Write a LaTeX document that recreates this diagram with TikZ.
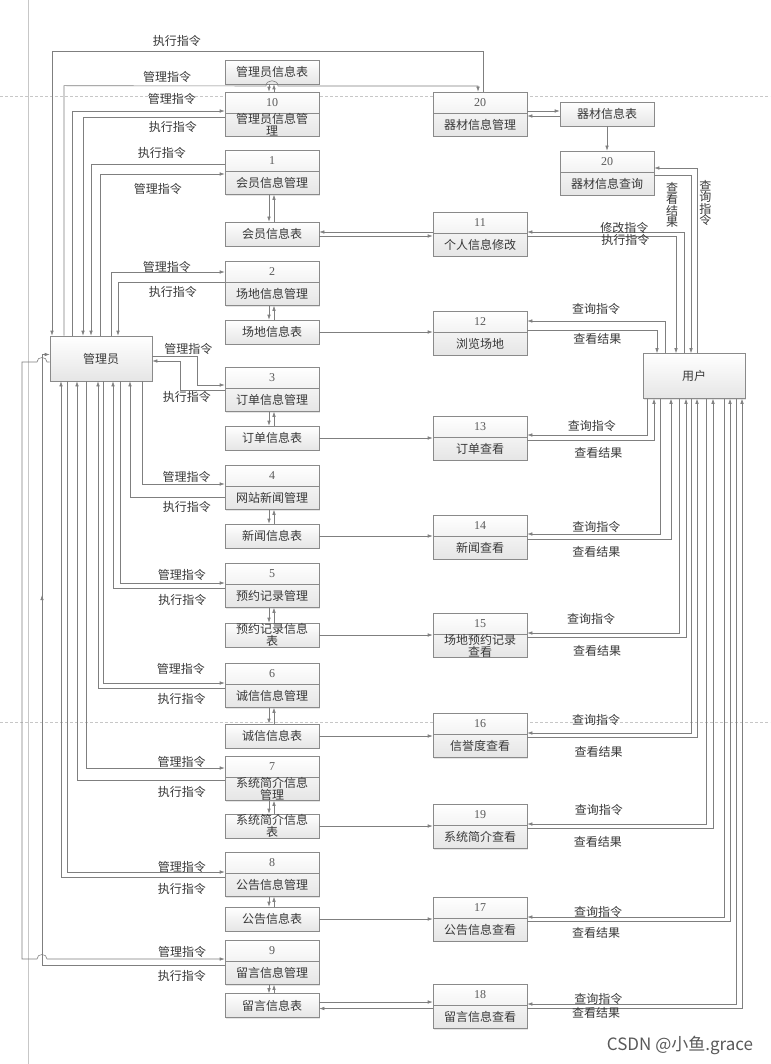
\documentclass[tikz,border=0pt]{standalone}
\usepackage{fontspec}
\setmainfont{Noto Sans CJK SC}
\newfontfamily\numfont{Liberation Serif}
\usetikzlibrary{arrows, arrows.meta, shadows, decorations.markings}

\definecolor{linegray}{HTML}{7F7F7F}
\definecolor{boxline}{HTML}{8A8A8A}
\definecolor{txtgray}{HTML}{383838}
\definecolor{numgray}{HTML}{5A5A5A}

% number cell on top, name cell below
\newcommand{\twocell}[2]{%
  \vbox{\offinterlineskip\hsize=94pt
    \vbox to 21pt{\vss\hbox to 94pt{\hss{\numfont\color{numgray}#1}\hss}\vss}%
    \vbox to 23pt{\vss\baselineskip=12pt\lineskiplimit=-100pt
      \centering\noindent #2\par\vss}}}

\tikzset{
    procbox/.style = {
        rectangle, draw=boxline, line width=0.6pt,
        top color=white, bottom color=black!10,
        drop shadow={opacity=0.2, shadow xshift=1.2pt, shadow yshift=-1.2pt},
        inner sep=0pt, minimum width=94pt, minimum height=44pt,
        text=txtgray, font=\fontsize{12}{12}\selectfont,
        path picture={\draw[boxline, line width=0.6pt]
            ([yshift=-21pt]path picture bounding box.north west) --
            ([yshift=-21pt]path picture bounding box.north east);}
    },
    tablebox/.style = {
        rectangle, draw=boxline, line width=0.6pt,
        top color=white, bottom color=black!10,
        drop shadow={opacity=0.2, shadow xshift=1.2pt, shadow yshift=-1.2pt},
        inner sep=0pt, minimum width=94pt, minimum height=24pt,
        align=center, text=txtgray, font=\fontsize{12}{12}\selectfont
    },
    actor/.style = {
        rectangle, draw=boxline, line width=0.6pt,
        top color=white, bottom color=black!10,
        drop shadow={opacity=0.2, shadow xshift=1.2pt, shadow yshift=-1.2pt},
        minimum width=102pt, minimum height=45pt,
        text=txtgray, font=\fontsize{12}{12}\selectfont
    },
    arrow/.style = {
        -{Latex[length=5pt,width=3.5pt]}, color=linegray, line width=0.6pt
    },
    lbl/.style = {
        text=txtgray, font=\fontsize{12}{12}\selectfont, inner sep=1.5pt
    },
    vlbl/.style = {
        lbl, align=center, font=\fontsize{12}{11.5}\selectfont
    }
}

\begin{document}
\begin{tikzpicture}[x=1pt, y=-1pt]

\fill[white] (0,0) rectangle (770,1064);
\useasboundingbox (0,0) rectangle (770,1064);

% page edges of the screenshot
\draw [black!22, dash pattern=on 3pt off 2pt] (0,96) -- (770,96);
\draw [black!22, dash pattern=on 3pt off 2pt] (0,722) -- (770,722);
\draw [black!22] (28,0) -- (28,1064);

% actors
\node (admin) [actor] at (101,358.5) {管理员};
\node (user) [actor] at (694,376) {用户};

% management column
\node (tadmin) [tablebox] at (272,72) {管理员信息表};
\node (m10) [procbox] at (272,114) {\twocell{10}{管理员信息管\\理}};
\node (m1) [procbox] at (272,172.5) {\twocell{1}{会员信息管理}};
\node (t1) [tablebox] at (272,234) {会员信息表};
\node (m2) [procbox] at (272,283.5) {\twocell{2}{场地信息管理}};
\node (t2) [tablebox] at (272,332) {场地信息表};
\node (m3) [procbox] at (272,389.5) {\twocell{3}{订单信息管理}};
\node (t3) [tablebox] at (272,438) {订单信息表};
\node (m4) [procbox] at (272,487.5) {\twocell{4}{网站新闻管理}};
\node (t4) [tablebox] at (272,536) {新闻信息表};
\node (m5) [procbox] at (272,585.5) {\twocell{5}{预约记录管理}};
\node (t5) [tablebox] at (272,635) {预约记录信息\\表};
\node (m6) [procbox] at (272,685.5) {\twocell{6}{诚信信息管理}};
\node (t6) [tablebox] at (272,736) {诚信信息表};
\node (m7) [procbox] at (272,778.5) {\twocell{7}{系统简介信息\\管理}};
\node (t7) [tablebox] at (272,826) {系统简介信息\\表};
\node (m8) [procbox] at (272,874.5) {\twocell{8}{公告信息管理}};
\node (t8) [tablebox] at (272,919) {公告信息表};
\node (m9) [procbox] at (272,962.5) {\twocell{9}{留言信息管理}};
\node (t9) [tablebox] at (272,1005.5) {留言信息表};

% query column
\node (e20) [procbox] at (480,114) {\twocell{20}{器材信息管理}};
\node (q11) [procbox] at (480,234) {\twocell{11}{个人信息修改}};
\node (q12) [procbox] at (480,333) {\twocell{12}{浏览场地}};
\node (q13) [procbox] at (480,438) {\twocell{13}{订单查看}};
\node (q14) [procbox] at (480,537) {\twocell{14}{新闻查看}};
\node (q15) [procbox] at (480,635) {\twocell{15}{场地预约记录\\查看}};
\node (q16) [procbox] at (480,735.5) {\twocell{16}{信誉度查看}};
\node (q19) [procbox] at (480,826.5) {\twocell{19}{系统简介查看}};
\node (q17) [procbox] at (480,919) {\twocell{17}{公告信息查看}};
\node (q18) [procbox] at (480,1006.5) {\twocell{18}{留言信息查看}};

\node (tequip) [tablebox] at (607,114) {器材信息表};
\node (qeq) [procbox] at (607,173) {\twocell{20}{器材信息查询}};

% admin <-> top boxes
\draw [arrow] ([xshift=3pt]e20.north) -- ++(0,-40) -- node[lbl, above=3.5pt, pos=0.71] {执行指令} ++(-431,0) -- ([xshift=-49pt]admin.north);
\draw [arrow] ([xshift=-37pt]admin.north) -- ++(0,-250) -- node[lbl, above=1.5pt, pos=0.51] {管理指令} (266,86) .. controls (266,79) and (278,79) .. (278,86) -| ([xshift=-2pt]e20.north);
\draw [arrow] ([xshift=-29pt]admin.north) |- node[lbl, above=4.5pt, pos=0.827] {管理指令} ([yshift=3pt]m10.west);
\draw [arrow] ([yshift=-3pt]m10.west) -| node[lbl, below=2.5pt, pos=0.183] {执行指令} ([xshift=-18pt]admin.north);
\draw [arrow] ([yshift=8.5pt]m1.west) -| node[lbl, above=3.5pt, pos=0.235] {执行指令} ([xshift=-10pt]admin.north);
\draw [arrow] ([xshift=-1pt]admin.north) |- node[lbl, below=7.5pt, pos=0.732] {管理指令} ([yshift=-1.5pt]m1.west);
\draw [arrow] ([xshift=10pt]admin.north) |- node[lbl, above=-2.5pt, pos=0.746] {管理指令} ([yshift=11.5pt]m2.west);
\draw [arrow] ([yshift=1.5pt]m2.west) -| node[lbl, below=2.5pt, pos=0.243] {执行指令} ([xshift=17pt]admin.north);

% admin <-> 3
\draw [arrow] ([yshift=2.5pt]admin.east) -- node[lbl, above=0pt, pos=0.8] {管理指令} ++(45,0) |- ([yshift=4.5pt]m3.west);
\draw [arrow] ([yshift=-0.5pt]m3.west) -- node[lbl, below=0pt, pos=0.86] {执行指令} ++(-44,0) |- ([yshift=-2.5pt]admin.east);

% admin <-> lower boxes
\draw [arrow] ([xshift=41pt]admin.south) |- node[lbl, above=0pt, pos=0.77] {管理指令} ([yshift=3.5pt]m4.west);
\draw [arrow] ([yshift=-9.5pt]m4.west) -| node[lbl, below=2.5pt, pos=0.2] {执行指令} ([xshift=29pt]admin.south);
\draw [arrow] ([xshift=19pt]admin.south) |- node[lbl, above=0.5pt, pos=0.795] {管理指令} ([yshift=2.5pt]m5.west);
\draw [arrow] ([yshift=-2.5pt]m5.west) -| node[lbl, below=4.5pt, pos=0.19] {执行指令} ([xshift=12pt]admin.south);
\draw [arrow] ([xshift=2pt]admin.south) |- node[lbl, above=6.5pt, pos=0.82] {管理指令} ([yshift=2.5pt]m6.west);
\draw [arrow] ([yshift=-2.5pt]m6.west) -| node[lbl, below=3.5pt, pos=0.17] {执行指令} ([xshift=-3pt]admin.south);
\draw [arrow] ([xshift=-15pt]admin.south) |- node[lbl, above=-1.5pt, pos=0.845] {管理指令} ([yshift=10.5pt]m7.west);
\draw [arrow] ([yshift=-1.5pt]m7.west) -| node[lbl, below=4.5pt, pos=0.145] {执行指令} ([xshift=-24pt]admin.south);
\draw [arrow] ([xshift=-34pt]admin.south) |- node[lbl, above=-2.5pt, pos=0.864] {管理指令} ([yshift=2.5pt]m8.west);
\draw [arrow] ([yshift=-2.5pt]m8.west) -| node[lbl, below=4.5pt, pos=0.131] {执行指令} ([xshift=-40pt]admin.south);
\draw [arrow] ([yshift=-3.5pt]admin.west) -- (47,362) .. controls (47,356) and (37,356) .. (37,362) -- (22,362) -- (22,959) -- (37,959) .. controls (37,953) and (47,953) .. (47,959) -- node[lbl, above=0pt, pos=0.76] {管理指令} ([yshift=3.5pt]m9.west);
\draw [arrow, postaction={decorate}, decoration={markings, mark=at position 0.69 with {\arrow{Latex[length=5pt,width=3.5pt]}}}] ([yshift=-2.5pt]m9.west) -- node[lbl, below=3.5pt, pos=0.235] {执行指令} (42,965) -- (42,354.5) -- ([yshift=4pt]admin.west);

% management box <-> table
\draw [arrow] ([xshift=-3pt]tadmin.south) -- ([xshift=-3pt]m10.north);
\draw [arrow] ([xshift=2pt]m10.north) -- ([xshift=2pt]tadmin.south);
\draw [arrow] ([xshift=-3pt]m1.south) -- ([xshift=-3pt]t1.north);
\draw [arrow] ([xshift=2pt]t1.north) -- ([xshift=2pt]m1.south);
\draw [arrow] ([xshift=-3pt]m2.south) -- ([xshift=-3pt]t2.north);
\draw [arrow] ([xshift=2pt]t2.north) -- ([xshift=2pt]m2.south);
\draw [arrow] ([xshift=-3pt]m3.south) -- ([xshift=-3pt]t3.north);
\draw [arrow] ([xshift=2pt]t3.north) -- ([xshift=2pt]m3.south);
\draw [arrow] ([xshift=-3pt]m4.south) -- ([xshift=-3pt]t4.north);
\draw [arrow] ([xshift=2pt]t4.north) -- ([xshift=2pt]m4.south);
\draw [arrow] ([xshift=-3pt]m5.south) -- ([xshift=-3pt]t5.north);
\draw [arrow] ([xshift=2pt]t5.north) -- ([xshift=2pt]m5.south);
\draw [arrow] ([xshift=-3pt]m6.south) -- ([xshift=-3pt]t6.north);
\draw [arrow] ([xshift=2pt]t6.north) -- ([xshift=2pt]m6.south);
\draw [arrow] ([xshift=-3pt]m7.south) -- ([xshift=-3pt]t7.north);
\draw [arrow] ([xshift=2pt]t7.north) -- ([xshift=2pt]m7.south);
\draw [arrow] ([xshift=-3pt]m8.south) -- ([xshift=-3pt]t8.north);
\draw [arrow] ([xshift=2pt]t8.north) -- ([xshift=2pt]m8.south);
\draw [arrow] ([xshift=-3pt]m9.south) -- ([xshift=-3pt]t9.north);
\draw [arrow] ([xshift=2pt]t9.north) -- ([xshift=2pt]m9.south);

% table -> query
\draw [arrow] ([yshift=-2pt]t1.east) -- ([yshift=-2pt]q11.west);
\draw [arrow] ([yshift=2pt]q11.west) -- ([yshift=2pt]t1.east);
\draw [arrow] (t2.east) -- (t2.east -| q12.west);
\draw [arrow] (t3.east) -- (t3.east -| q13.west);
\draw [arrow] (t4.east) -- (t4.east -| q14.west);
\draw [arrow] (t5.east) -- (t5.east -| q15.west);
\draw [arrow] (t6.east) -- (t6.east -| q16.west);
\draw [arrow] (t7.east) -- (t7.east -| q19.west);
\draw [arrow] (t8.east) -- (t8.east -| q17.west);
\draw [arrow] ([yshift=3.5pt]t9.east) -- ([yshift=3.5pt]q18.west |- t9.east);
\draw [arrow] ([yshift=-3pt]q18.west |- t9.east) -- ([yshift=-3pt]t9.east);

% equipment
\draw [arrow] ([yshift=3pt]e20.east) -- ([yshift=3pt]tequip.west);
\draw [arrow] ([yshift=-2pt]tequip.west) -- ([yshift=-2pt]e20.east);
\draw [arrow] (tequip.south) -- (qeq.north);

% user <-> top queries
\draw [arrow] ([xshift=3pt]user.north) |- node[vlbl, right=0.5pt, pos=0.406] {查\\询\\指\\令} ([yshift=5pt]qeq.east);
\draw [arrow] ([yshift=-2pt]qeq.east) -| node[vlbl, left=11pt, pos=0.584] {查\\看\\结\\果} ([xshift=-3pt]user.north);
\draw [arrow] ([xshift=-10pt]user.north) |- node[lbl, above=-3.5pt, pos=0.69] {修改指令} ([yshift=2pt]q11.east);
\draw [arrow] ([yshift=-2pt]q11.east) -| node[lbl, below=-3.5pt, pos=0.33] {执行指令} ([xshift=-18pt]user.north);
\draw [arrow] ([xshift=-29pt]user.north) |- node[lbl, above=4.5pt, pos=0.75] {查询指令} ([yshift=12pt]q12.east);
\draw [arrow] ([yshift=3pt]q12.east) -| node[lbl, below=1.5pt, pos=0.27] {查看结果} ([xshift=-37pt]user.north);

% user <-> lower queries
\draw [arrow] ([xshift=-47pt]user.south) |- node[lbl, above=1.5pt, pos=0.73] {查询指令} ([yshift=3pt]q13.east);
\draw [arrow] ([yshift=-2pt]q13.east) -| node[lbl, below=5.5pt, pos=0.28] {查看结果} ([xshift=-40pt]user.south);
\draw [arrow] ([xshift=-34pt]user.south) |- node[lbl, above=0pt, pos=0.74] {查询指令} ([yshift=3pt]q14.east);
\draw [arrow] ([yshift=-2pt]q14.east) -| node[lbl, below=5.5pt, pos=0.24] {查看结果} ([xshift=-23pt]user.south);
\draw [arrow] ([xshift=-15pt]user.south) |- node[lbl, above=6.5pt, pos=0.79] {查询指令} ([yshift=2pt]q15.east);
\draw [arrow] ([yshift=-2pt]q15.east) -| node[lbl, below=6.5pt, pos=0.22] {查看结果} ([xshift=-8pt]user.south);
\draw [arrow] ([xshift=-3pt]user.south) |- node[lbl, above=5.5pt, pos=0.79] {查询指令} ([yshift=2.5pt]q16.east);
\draw [arrow] ([yshift=-2pt]q16.east) -| node[lbl, below=7pt, pos=0.21] {查看结果} ([xshift=3pt]user.south);
\draw [arrow] ([xshift=12pt]user.south) |- node[lbl, above=6.5pt, pos=0.8] {查询指令} ([yshift=2.5pt]q19.east);
\draw [arrow] ([yshift=-2pt]q19.east) -| node[lbl, below=6pt, pos=0.19] {查看结果} ([xshift=19pt]user.south);
\draw [arrow] ([xshift=30pt]user.south) |- node[lbl, above=-2.5pt, pos=0.82] {查询指令} ([yshift=2pt]q17.east);
\draw [arrow] ([yshift=-2pt]q17.east) -| node[lbl, below=4.5pt, pos=0.17] {查看结果} ([xshift=36pt]user.south);
\draw [arrow] ([xshift=42pt]user.south) |- node[lbl, above=-2.5pt, pos=0.83] {查询指令} ([yshift=2.5pt]q18.east);
\draw [arrow] ([yshift=-2pt]q18.east) -| node[lbl, below=-3pt, pos=0.16] {查看结果} ([xshift=48pt]user.south);

\node (mark) [text=black!65, font=\fontsize{17}{17}\selectfont] at (680,1045) {CSDN @小鱼.grace};

\end{tikzpicture}
\end{document}
